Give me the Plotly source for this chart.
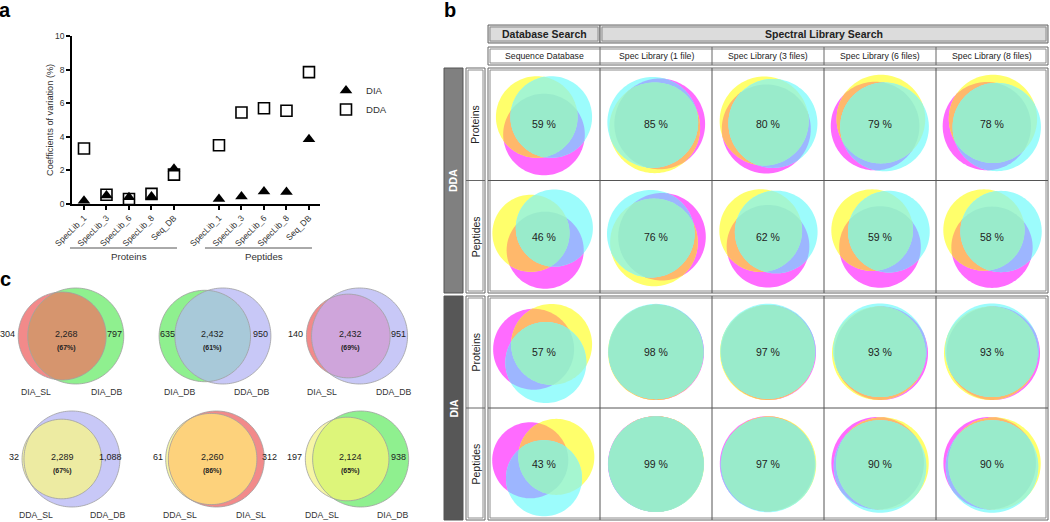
import math
import numpy as np
import plotly.graph_objects as go

W, H = 1050, 522
FONT = "Liberation Sans, Arial, sans-serif"

# ---------------- data: panel a ----------------
cv_categories = ["SpecLib_1", "SpecLib_3", "SpecLib_6", "SpecLib_8", "Seq_DB"]
cv_groups = ["Proteins", "Peptides"]
dia_proteins_cv = [0.2, 0.5, 0.4, 0.45, 2.1]
dia_peptides_cv = [0.3, 0.45, 0.75, 0.72, 3.85]
dda_proteins_cv = [3.3, 0.55, 0.3, 0.6, 1.75]
dda_peptides_cv = [3.5, 5.45, 5.7, 5.55, 7.85]
cv_ticks = [0, 2, 4, 6, 8, 10]

# ---------------- data: panel b ----------------
b_columns = ["Sequence Database", "Spec Library (1 file)", "Spec Library (3 files)",
             "Spec Library (6 files)", "Spec Library (8 files)"]
b_headers = ["Database Search", "Spectral Library Search"]
b_blocks = ["DDA", "DIA"]
b_rows = ["Proteins", "Peptides"]
dda_proteins_overlap = [59, 85, 80, 79, 78]
dda_peptides_overlap = [46, 76, 62, 59, 58]
dia_proteins_overlap = [57, 98, 97, 93, 93]
dia_peptides_overlap = [43, 99, 97, 90, 90]

# ---------------- data: panel c ----------------
venn_set_a = ["DIA_SL", "DIA_DB", "DIA_SL", "DDA_SL", "DDA_SL", "DDA_SL"]
venn_set_b = ["DIA_DB", "DDA_DB", "DDA_DB", "DDA_DB", "DIA_SL", "DIA_DB"]
venn_only_a = [304, 635, 140, 32, 61, 197]
venn_both = [2268, 2432, 2432, 2289, 2260, 2124]
venn_only_b = [797, 950, 951, 1088, 312, 938]
venn_pct = ["67%", "61%", "69%", "67%", "86%", "65%"]

# ---------------- styles ----------------
set_color = {"DIA_SL": "#F28A8A", "DIA_DB": "#8FF08F", "DDA_DB": "#C8C8F7", "DDA_SL": "#F6F6A6"}
pair_color = {
    ("DIA_SL", "DIA_DB"): "#D6956E",
    ("DIA_DB", "DDA_DB"): "#A8C9D9",
    ("DIA_SL", "DDA_DB"): "#CFA5DB",
    ("DDA_SL", "DDA_DB"): "#EDEBA2",
    ("DDA_SL", "DIA_SL"): "#FDD27C",
    ("DDA_SL", "DIA_DB"): "#DDF57A",
}
# triple venn colours (magenta, yellow, cyan)
tri_only = ["#FF6BFF", "#FFFF6B", "#9CFCFC"]
tri_pair = {(0, 1): "#FFB86B", (0, 2): "#9DB6FF", (1, 2): "#A5F6D0"}
tri_all = "#99EBCB"
# orientation (degrees) of magenta, yellow, cyan circles for each cell
tri_angles = {
    ("DDA", "Proteins"): [(270, 135, 45), (5, 250, 150), (250, 140, 10), (200, 80, 330), (200, 80, 330)],
    ("DDA", "Peptides"): [(275, 165, 40), (0, 250, 150), (270, 140, 30), (270, 140, 30), (270, 140, 30)],
    ("DIA", "Proteins"): [(165, 45, 280), (315, 225, 90), (315, 225, 90), (315, 225, 90), (315, 225, 90)],
    ("DIA", "Peptides"): [(165, 30, 270), (160, 10, 270), (160, 10, 270), (160, 10, 270), (160, 10, 270)],
}

shapes = []
annotations = []


def X(x):
    return x / W


def Y(y):
    return 1 - y / H


def text(x, y, s, size=10, color="#222", angle=0, xanchor="center", yanchor="middle"):
    annotations.append(dict(x=X(x), y=Y(y), xref="paper", yref="paper", text=s, showarrow=False,
                            textangle=angle, xanchor=xanchor, yanchor=yanchor, borderpad=0,
                            font=dict(family=FONT, size=size, color=color)))


def rect(x0, y0, x1, y1, line="#6f6f6f", w=1, fill="rgba(0,0,0,0)"):
    shapes.append(dict(type="rect", xref="paper", yref="paper", x0=X(x0), x1=X(x1), y0=Y(y1), y1=Y(y0),
                       line=dict(color=line, width=w), fillcolor=fill, layer="above"))


def dbl_rect(x0, y0, x1, y1, fill="rgba(0,0,0,0)"):
    rect(x0, y0, x1, y1, line="#666666", w=1, fill=fill)
    rect(x0 + 2, y0 + 2, x1 - 2, y1 - 2, line="#8c8c8c", w=1)


def line(x0, y0, x1, y1, color="#555", w=1):
    shapes.append(dict(type="line", xref="paper", yref="paper", x0=X(x0), x1=X(x1), y0=Y(y0), y1=Y(y1),
                       line=dict(color=color, width=w), layer="above"))


def circle_pts(cx, cy, r, n=120):
    t = np.linspace(0, 2 * np.pi, n, endpoint=False)
    return list(zip(cx + r * np.cos(t), cy + r * np.sin(t)))


def clip(subject, clipper):
    out = list(subject)
    n = len(clipper)
    for i in range(n):
        if not out:
            break
        a = clipper[i]
        b = clipper[(i + 1) % n]

        def inside(p):
            return (b[0] - a[0]) * (p[1] - a[1]) - (b[1] - a[1]) * (p[0] - a[0]) >= 0

        def inter(p, q):
            x1, y1 = p
            x2, y2 = q
            x3, y3 = a
            x4, y4 = b
            den = (x1 - x2) * (y3 - y4) - (y1 - y2) * (x3 - x4)
            if abs(den) < 1e-12:
                return q
            t = ((x1 - x3) * (y3 - y4) - (y1 - y3) * (x3 - x4)) / den
            return (x1 + t * (x2 - x1), y1 + t * (y2 - y1))

        inp = out
        out = []
        s = inp[-1]
        for e in inp:
            if inside(e):
                if not inside(s):
                    out.append(inter(s, e))
                out.append(e)
            elif inside(s):
                out.append(inter(s, e))
            s = e
    return out


def poly(pts, fill, outline=None, ow=0.8):
    if len(pts) < 3:
        return
    path = "M " + " L ".join(f"{X(x):.5f},{Y(y):.5f}" for x, y in pts) + " Z"
    shapes.append(dict(type="path", xref="paper", yref="paper", path=path, fillcolor=fill,
                       line=dict(color=outline or "rgba(0,0,0,0)", width=ow if outline else 0),
                       layer="above"))


# ================= panel a =================
n_cat = len(cv_categories)
xpos = [g * (n_cat + 1) + i for g in range(len(cv_groups)) for i in range(n_cat)]
ticktext = cv_categories * len(cv_groups)
dia_all = dia_proteins_cv + dia_peptides_cv
dda_all = dda_proteins_cv + dda_peptides_cv

fig = go.Figure()
fig.add_trace(go.Scatter(x=xpos, y=dia_all, mode="markers", name="DIA", cliponaxis=False,
                         marker=dict(symbol="triangle-up", size=11, color="black")))
fig.add_trace(go.Scatter(x=xpos, y=dda_all, mode="markers", name="DDA", cliponaxis=False,
                         marker=dict(symbol="square-open", size=11, color="black", line=dict(width=1.6))))

ax_x0, ax_x1 = 72, 320
ax_y0, ax_y1 = 204, 36
x_lo, x_hi = -0.533, 10.49

# group labels under the axis
for g, name in enumerate(cv_groups):
    first = g * (n_cat + 1)
    last = first + n_cat - 1
    px_first = ax_x0 + (first - x_lo) / (x_hi - x_lo) * (ax_x1 - ax_x0)
    px_last = ax_x0 + (last - x_lo) / (x_hi - x_lo) * (ax_x1 - ax_x0)
    line(px_first - 14, 248, px_last + 3, 248, color="#555", w=1)
    text((px_first + px_last) / 2, 257, name, size=9.7, color="#333")

text(50, 120, "Coefficients of variation (%)", size=9.2, color="#333", angle=-90)

# panel letters
text(5, 10, "<b>a</b>", size=20, color="black")
text(450, 10, "<b>b</b>", size=20, color="black")
text(5, 279, "<b>c</b>", size=20, color="black")

# ================= panel b =================
tx0, tx1 = 488, 1048
ncol = len(b_columns)
cw = (tx1 - tx0) / ncol
col_edges = [tx0 + cw * j for j in range(ncol + 1)]

# header row 1
dbl_rect(col_edges[0], 25, col_edges[1], 43, fill="#DCDCDC")
dbl_rect(col_edges[1], 25, col_edges[-1], 43, fill="#DCDCDC")
text((col_edges[0] + col_edges[1]) / 2, 34, "<b>" + b_headers[0] + "</b>", size=10.5, color="#222")
text((col_edges[1] + col_edges[-1]) / 2, 34, "<b>" + b_headers[1] + "</b>", size=10.5, color="#222")
# header row 2
dbl_rect(tx0, 47, tx1, 65)
for j in range(1, ncol):
    line(col_edges[j], 47, col_edges[j], 65, color="#666")
for j, c in enumerate(b_columns):
    text((col_edges[j] + col_edges[j + 1]) / 2, 56, c, size=8.7, color="#222")

block_spans = [(68, 293), (296, 520)]
block_fill = ["#808080", "#575757"]
overlaps = {("DDA", "Proteins"): dda_proteins_overlap, ("DDA", "Peptides"): dda_peptides_overlap,
            ("DIA", "Proteins"): dia_proteins_overlap, ("DIA", "Peptides"): dia_peptides_overlap}

for bi, blk in enumerate(b_blocks):
    y0, y1 = block_spans[bi]
    ymid = (y0 + y1) / 2
    # side bar
    rect(444, y0, 463, y1, line="#555", w=1, fill=block_fill[bi])
    text(453.5, ymid, "<b>" + blk + "</b>", size=10.5, color="white", angle=-90)
    # row label column
    dbl_rect(466, y0, 485, y1)
    line(466, ymid, 485, ymid, color="#666")
    # body
    dbl_rect(tx0, y0, tx1, y1)
    line(tx0, ymid, tx1, ymid, color="#555")
    for j in range(1, ncol):
        line(col_edges[j], y0, col_edges[j], y1, color="#555")
    row_edges = [y0, ymid, y1]
    for ri, rname in enumerate(b_rows):
        cy = (row_edges[ri] + row_edges[ri + 1]) / 2
        text(475.5, cy, rname, size=10.5, color="#222", angle=-90)
        vals = overlaps[(blk, rname)]
        angs = tri_angles[(blk, rname)]
        for j in range(ncol):
            cx = (col_edges[j] + col_edges[j + 1]) / 2
            p = vals[j]
            d = 0.25 * (100 - p)
            r = 48 - 0.7 * d
            circs = []
            for a in angs[j]:
                th = math.radians(a)
                circs.append(circle_pts(cx + d * math.cos(th), cy - d * math.sin(th), r))
            for k in range(3):
                poly(circs[k], tri_only[k])
            for (i1, i2), col in tri_pair.items():
                poly(clip(circs[i1], circs[i2]), col)
            poly(clip(clip(circs[0], circs[1]), circs[2]), tri_all)
            text(cx, cy, f"{p} %", size=10.5, color="#222")

# ================= panel c =================
slot_x = [71, 215, 357]
slot_y = [336, 459]


def lens_area(r1, r2, d):
    if d >= r1 + r2:
        return 0.0
    if d <= abs(r1 - r2):
        return math.pi * min(r1, r2) ** 2
    a1 = r1 ** 2 * math.acos((d * d + r1 * r1 - r2 * r2) / (2 * d * r1))
    a2 = r2 ** 2 * math.acos((d * d + r2 * r2 - r1 * r1) / (2 * d * r2))
    a3 = 0.5 * math.sqrt(max(0.0, (-d + r1 + r2) * (d + r1 - r2) * (d - r1 + r2) * (d + r1 + r2)))
    return a1 + a2 - a3


for i in range(len(venn_both)):
    tot_a = venn_only_a[i] + venn_both[i]
    tot_b = venn_only_b[i] + venn_both[i]
    k = 48 / math.sqrt(max(tot_a, tot_b))
    ra = k * math.sqrt(tot_a)
    rb = k * math.sqrt(tot_b)
    target = math.pi * k * k * venn_both[i]
    lo, hi = abs(ra - rb), ra + rb
    for _ in range(60):
        mid = (lo + hi) / 2
        if lens_area(ra, rb, mid) > target:
            lo = mid
        else:
            hi = mid
    dist = (lo + hi) / 2
    sx = slot_x[i % 3]
    sy = slot_y[i // 3]
    left = min(-ra, dist - rb)
    right = max(ra, dist + rb)
    xa = sx - (left + right) / 2
    xb = xa + dist
    ca = circle_pts(xa, sy, ra, 160)
    cb = circle_pts(xb, sy, rb, 160)
    sa, sb = venn_set_a[i], venn_set_b[i]
    poly(ca, set_color[sa])
    poly(cb, set_color[sb])
    poly(clip(ca, cb), pair_color[(sa, sb)])
    poly(ca, "rgba(0,0,0,0)", outline="#A0A0A0", ow=0.8)
    poly(cb, "rgba(0,0,0,0)", outline="#A0A0A0", ow=0.8)

    # labels
    la_edge, lb_edge = xa - ra, xb - rb
    if lb_edge - la_edge >= 14:
        text((la_edge + lb_edge) / 2, sy - 2, f"{venn_only_a[i]:,}", size=9, color="#222")
    else:
        text(min(la_edge, lb_edge) - 2, sy - 2, f"{venn_only_a[i]:,}", size=9, color="#222", xanchor="right")
    ra_edge, rb_edge = xa + ra, xb + rb
    if rb_edge - ra_edge >= 14:
        text((ra_edge + rb_edge) / 2, sy - 2, f"{venn_only_b[i]:,}", size=9, color="#222")
    else:
        text(max(ra_edge, rb_edge) - 3, sy - 2, f"{venn_only_b[i]:,}", size=9, color="#222", xanchor="left")
    lens_mid = (max(la_edge, lb_edge) + min(ra_edge, rb_edge)) / 2
    text(lens_mid, sy - 2, f"{venn_both[i]:,}", size=9, color="#222")
    text(lens_mid, sy + 12, f"<b>({venn_pct[i]})</b>", size=7, color="#222")
    ylab = sy + max(ra, rb) + 8
    text(sx - 35, ylab, sa, size=8.7, color="#333")
    text(sx + 36, ylab, sb, size=8.7, color="#333")

fig.update_layout(
    width=W, height=H,
    margin=dict(l=0, r=0, t=0, b=0),
    paper_bgcolor="white", plot_bgcolor="white",
    font=dict(family=FONT, size=10, color="#333"),
    showlegend=True,
    legend=dict(x=X(326), y=Y(76), xanchor="left", yanchor="top", bgcolor="rgba(0,0,0,0)",
                font=dict(family=FONT, size=9.6, color="#333"), itemwidth=30, tracegroupgap=0),
    xaxis=dict(domain=[X(ax_x0), X(ax_x1)], range=[x_lo, x_hi], tickvals=xpos, ticktext=ticktext,
               tickangle=-45, ticks="outside", ticklen=4, tickwidth=1.5, tickcolor="black",
               showline=True, linecolor="black", linewidth=1.5, showgrid=False, zeroline=False,
               tickfont=dict(family=FONT, size=8.5, color="#333"), automargin=False, fixedrange=True),
    yaxis=dict(domain=[Y(ax_y0), Y(ax_y1)], range=[0, 10], tickvals=cv_ticks,
               ticks="outside", ticklen=4, tickwidth=1.5, tickcolor="black",
               showline=True, linecolor="black", linewidth=1.5, showgrid=False, zeroline=False,
               tickfont=dict(family=FONT, size=8.5, color="#333"), automargin=False, fixedrange=True),
    shapes=shapes,
    annotations=annotations,
)

fig.write_html("out.html", config={"displayModeBar": False},
               post_script="document.body.style.margin='0';document.body.style.padding='0';"
                           "document.documentElement.style.overflow='hidden';")
